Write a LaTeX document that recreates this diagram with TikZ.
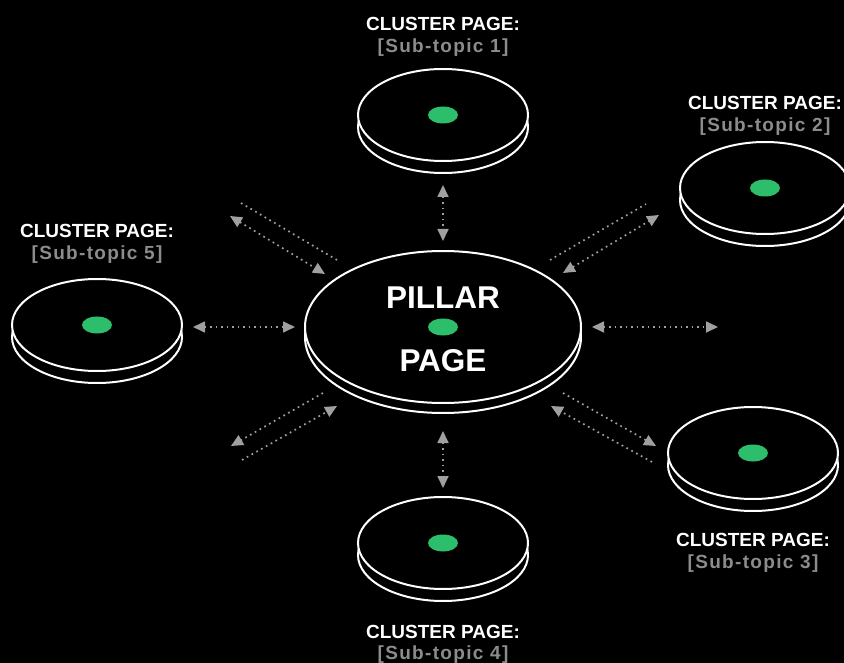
\documentclass[tikz,border=0pt]{standalone}
\usepackage{fontspec}
\setmainfont{Liberation Sans}
\usetikzlibrary{arrows.meta}
\definecolor{dotgreen}{HTML}{2DBE6C}
\definecolor{arrgray}{HTML}{A0A0A0}
\definecolor{subgray}{HTML}{8C8C8C}
\newcommand\cdisc[6]{% name, x, y, rx, ry, thickness
  \path[discstyle] (#2,#3+#6) ellipse [x radius=#4, y radius=#5];
  \path[discstyle] (#2,#3) ellipse [x radius=#4, y radius=#5];
  \path[greendot] (#2,#3) ellipse [x radius=15, y radius=8.5];
  \coordinate (#1) at (#2,#3);}
\begin{document}
\begin{tikzpicture}[x=1pt,y=-1pt,
  discstyle/.style={draw=white, line width=2pt, fill=black},
  greendot/.style={fill=dotgreen},
  link/.style={draw=arrgray, line width=1.7pt, dash pattern=on 1.7pt off 3.8pt},
  tipgray/.tip={Triangle[length=12pt,width=11pt,fill=arrgray]},
  twoway/.style={link, tipgray-tipgray},
  oneway/.style={link, -tipgray},
  title/.style={text=white, font=\bfseries\fontsize{19}{22}\selectfont, inner sep=0pt},
  sub/.style={text=subgray, font=\bfseries\fontsize{19}{22}\selectfont\addfontfeatures{LetterSpace=7}, inner sep=0pt},
  big/.style={text=white, font=\bfseries\fontsize{31.5}{34}\selectfont, inner sep=0pt}]
\path[use as bounding box, fill=black] (0,0) rectangle (844,663);
% discs
\cdisc{pillar}{443}{327}{138}{76}{10}
\cdisc{c1}{443}{115}{85}{46}{12}
\cdisc{c2}{765}{188}{85}{46}{12}
\cdisc{c3}{753}{453}{85}{46}{12}
\cdisc{c4}{443}{543}{85}{46}{12}
\cdisc{c5}{97}{325}{85}{46}{12}
% pillar text
\node[big] (ptop) at (443,298) {PILLAR};
\node[big] (pbot) at (443,361) {PAGE};
% labels
\node[title] (t1) at (443,24) {CLUSTER PAGE:};
\node[sub] (s1) at (443,48) {[Sub-topic 1]};
\node[title] (t2) at (765,103) {CLUSTER PAGE:};
\node[sub] (s2) at (765,127) {[Sub-topic 2]};
\node[title] (t5) at (97,231) {CLUSTER PAGE:};
\node[sub] (s5) at (97,255) {[Sub-topic 5]};
\node[title] (t3) at (753,540) {CLUSTER PAGE:};
\node[sub] (s3) at (753,564) {[Sub-topic 3]};
\node[title] (t4) at (443,632) {CLUSTER PAGE:};
\node[sub] (s4) at (443,655) {[Sub-topic 4]};
% connector endpoints
\coordinate (u1) at (443,185); \coordinate (u2) at (443,241);
\coordinate (d1) at (443,431); \coordinate (d2) at (443,488);
\coordinate (l1) at (193,327); \coordinate (l2) at (295,327);
\coordinate (r1) at (592,327); \coordinate (r2) at (718,327);
\coordinate (ula1) at (230,216); \coordinate (ula2) at (325,274);
\coordinate (ull1) at (241,203); \coordinate (ull2) at (337,260);
\coordinate (ura1) at (563,273); \coordinate (ura2) at (659,215);
\coordinate (url1) at (550,260); \coordinate (url2) at (646,204);
\coordinate (llu1) at (323,393); \coordinate (llu2) at (231,446);
\coordinate (lll1) at (242,460); \coordinate (lll2) at (337,406);
\coordinate (lru1) at (563,393); \coordinate (lru2) at (656,446);
\coordinate (lrl1) at (652,462); \coordinate (lrl2) at (551,406);
% connectors
\draw[twoway] (u1) -- (u2);
\draw[twoway] (d1) -- (d2);
\draw[twoway] (l1) -- (l2);
\draw[twoway] (r1) -- (r2);
\draw[twoway] (ula1) -- (ula2);
\draw[link] (ull1) -- (ull2);
\draw[twoway] (ura1) -- (ura2);
\draw[link] (url1) -- (url2);
\draw[oneway] (llu1) -- (llu2);
\draw[oneway] (lll1) -- (lll2);
\draw[oneway] (lru1) -- (lru2);
\draw[oneway] (lrl1) -- (lrl2);
\end{tikzpicture}
\end{document}
